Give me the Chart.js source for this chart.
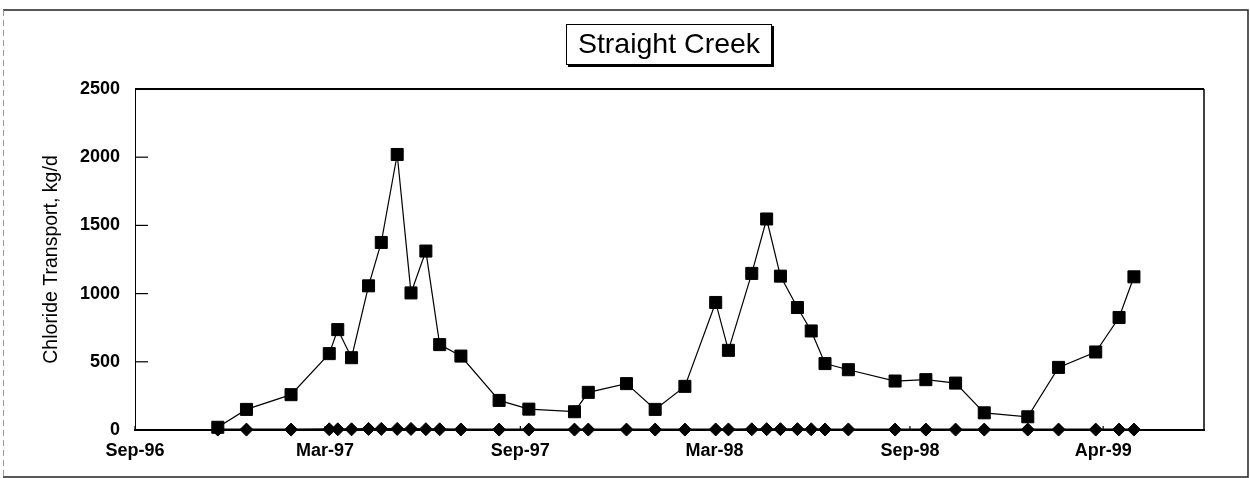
<!DOCTYPE html>
<html><head><meta charset="utf-8">
<script src="https://cdn.jsdelivr.net/npm/chart.js@4/dist/chart.umd.min.js"></script>
<style>html,body{margin:0;padding:0;background:#fff;}#wrap{width:1250px;height:478px;}</style>
</head><body><div id="wrap"><canvas id="c" width="1250" height="478"></canvas></div>
<script>
const chartTitle = 'Straight Creek';
const yAxisTitle = 'Chloride Transport, kg/d';
const startDate = '1996-09-01';
const endDate = '1999-06-05';
const sampleDates = ['1996-11-18','1996-12-15','1997-01-26','1997-03-03','1997-03-11','1997-03-24','1997-04-09','1997-04-21','1997-05-06','1997-05-19','1997-06-02','1997-06-15','1997-07-05','1997-08-10','1997-09-07','1997-10-20','1997-11-02','1997-12-08','1998-01-04','1998-02-01','1998-03-02','1998-03-14','1998-04-05','1998-04-19','1998-05-02','1998-05-18','1998-05-31','1998-06-13','1998-07-05','1998-08-18','1998-09-16','1998-10-14','1998-11-10','1998-12-21','1999-01-19','1999-02-23','1999-03-17','1999-03-31'];
const transportSquares = [20,151,259,560,736,530,1057,1375,2020,1005,1312,626,542,217,153,134,276,340,151,320,935,584,1148,1547,1128,898,726,487,442,359,369,344,126,97,459,572,825,1123];
const transportDiamonds = [3,3,3,5,5,5,8,8,8,8,6,5,4,3,3,3,3,3,3,3,4,4,5,6,6,6,5,4,4,3,3,3,3,3,3,3,3,3];
const tickDates = ['1996-09-01','1997-02-27','1997-08-30','1998-03-01','1998-09-01','1999-03-02'];
const tickLabels = ['Sep-96','Mar-97','Sep-97','Mar-98','Sep-98','Apr-99'];
const yMin = 0, yMax = 2500, yStep = 500;

const dayOf = s => (Date.parse(s) - Date.parse(startDate)) / 86400000;
const squarePts = sampleDates.map((d, i) => ({x: dayOf(d), y: transportSquares[i]}));
const diamondPts = sampleDates.map((d, i) => ({x: dayOf(d), y: transportDiamonds[i]}));

const FONT = "'Liberation Sans', Arial, Helvetica, sans-serif";

const decor = {
  id: 'decor',
  beforeDraw(chart) {
    const ctx = chart.ctx;
    ctx.save();
    ctx.fillStyle = '#fff';
    ctx.fillRect(0, 0, chart.width, chart.height);
    ctx.restore();
  },
  beforeDatasetsDraw(chart) {
    const ctx = chart.ctx;
    const a = chart.chartArea;
    const ys = chart.scales.y, xs = chart.scales.x;
    ctx.save();
    ctx.strokeStyle = '#000';
    ctx.lineWidth = 2;
    ctx.beginPath(); ctx.moveTo(a.left, a.top); ctx.lineTo(a.right, a.top); ctx.stroke();
    ctx.lineWidth = 1.5;
    ctx.beginPath(); ctx.moveTo(a.right, a.top); ctx.lineTo(a.right, a.bottom); ctx.stroke();
    ctx.lineWidth = 1.2;
    ys.ticks.forEach(t => {
      const py = ys.getPixelForValue(t.value);
      ctx.beginPath(); ctx.moveTo(a.left, py); ctx.lineTo(a.left + 13, py); ctx.stroke();
    });
    xs.ticks.forEach(t => {
      const px = xs.getPixelForValue(t.value);
      ctx.beginPath(); ctx.moveTo(px, a.bottom); ctx.lineTo(px, a.bottom - 4); ctx.stroke();
    });
    ctx.restore();
  },
  afterDraw(chart) {
    const ctx = chart.ctx;
    ctx.save();
    ctx.strokeStyle = '#222';
    ctx.lineWidth = 1.5;
    ctx.beginPath();
    ctx.moveTo(3, 10); ctx.lineTo(1248, 10); ctx.lineTo(1248, 477); ctx.lineTo(3, 477);
    ctx.stroke();
    ctx.strokeStyle = '#999';
    ctx.lineWidth = 1;
    ctx.setLineDash([6, 4]);
    ctx.beginPath(); ctx.moveTo(3.5, 10); ctx.lineTo(3.5, 477); ctx.stroke();
    ctx.setLineDash([]);
    const bx = 566, by = 24, bw = 206, bh = 41;
    ctx.fillStyle = '#000';
    ctx.fillRect(bx + 2, by + 2, bw, bh);
    ctx.fillStyle = '#fff';
    ctx.fillRect(bx, by, bw, bh);
    ctx.strokeStyle = '#000';
    ctx.lineWidth = 1;
    ctx.strokeRect(bx + 0.5, by + 0.5, bw - 1, bh - 1);
    ctx.fillStyle = '#000';
    ctx.font = '28.5px ' + FONT;
    ctx.textAlign = 'center';
    ctx.textBaseline = 'middle';
    ctx.fillText(chartTitle, bx + bw / 2, by + bh / 2 + 1);
    ctx.restore();
  }
};

new Chart(document.getElementById('c'), {
  type: 'line',
  data: {
    datasets: [
      {
        label: 'Chloride transport',
        data: squarePts,
        borderColor: '#000',
        borderWidth: 1.2,
        pointStyle: 'rect',
        pointRadius: 8.5,
        pointBackgroundColor: '#000',
        pointBorderColor: '#000',
        pointBorderWidth: 1,
        tension: 0,
        clip: false,
        order: 1
      },
      {
        label: 'Background',
        data: diamondPts,
        borderColor: '#000',
        borderWidth: 2,
        pointStyle: 'rectRot',
        pointRadius: 6.5,
        pointBackgroundColor: '#000',
        pointBorderColor: '#000',
        pointBorderWidth: 1,
        tension: 0,
        clip: false,
        order: 2
      }
    ]
  },
  options: {
    responsive: false,
    animation: false,
    devicePixelRatio: 1,
    layout: {padding: {left: 0, right: 46, top: 89, bottom: 0}},
    plugins: {legend: {display: false}, tooltip: {enabled: false}, title: {display: false}},
    scales: {
      x: {
        type: 'linear',
        min: 0,
        max: dayOf(endDate),
        afterBuildTicks: s => { s.ticks = tickDates.map(d => ({value: dayOf(d)})); },
        afterFit: s => { s.height = 48; },
        grid: {display: false, drawTicks: false},
        border: {display: true, color: '#000', width: 2},
        ticks: {
          autoSkip: false,
          maxRotation: 0,
          padding: 10,
          color: '#000',
          font: {family: FONT, size: 18, weight: 'bold'},
          callback: (v, i) => tickLabels[i]
        }
      },
      y: {
        min: yMin,
        max: yMax,
        afterFit: s => { s.width = 135; },
        grid: {display: false, drawTicks: false},
        border: {display: true, color: '#000', width: 1},
        ticks: {
          stepSize: yStep,
          padding: 15,
          color: '#000',
          font: {family: FONT, size: 18, weight: 'bold'},
          callback: v => String(v)
        },
        title: {
          display: true,
          text: yAxisTitle,
          color: '#000',
          padding: {top: 40, bottom: 0},
          font: {family: FONT, size: 19.5, weight: 'normal'}
        }
      }
    }
  },
  plugins: [decor]
});
</script>
</body></html>
